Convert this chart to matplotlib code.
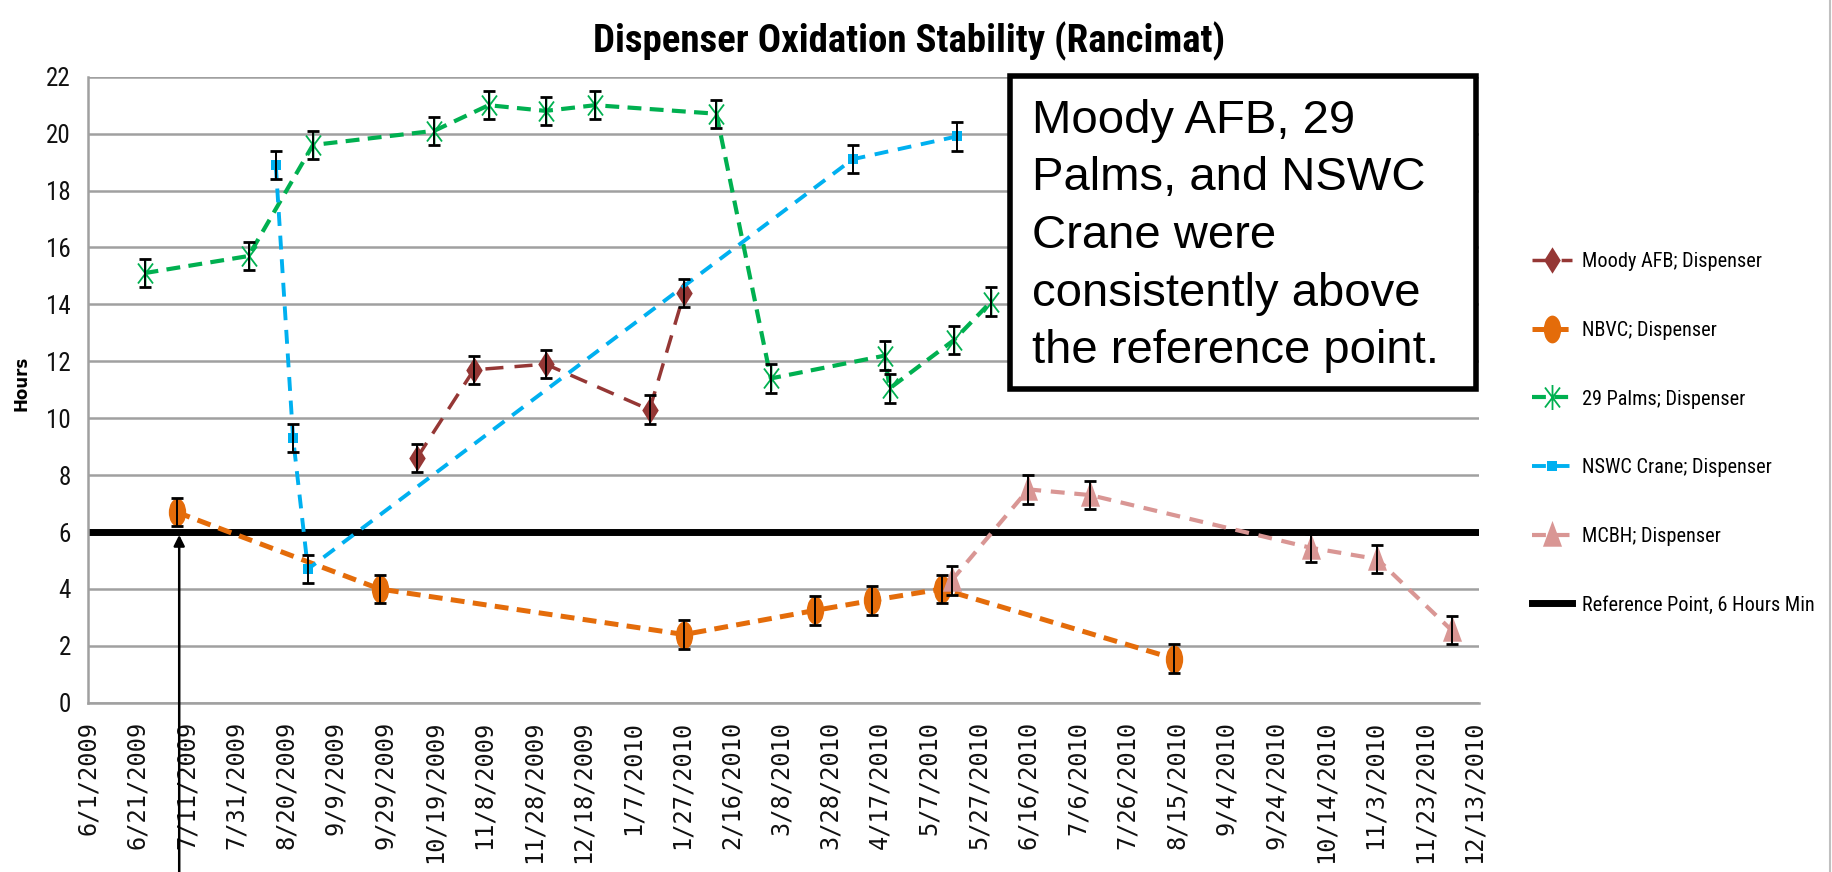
import pandas as pd
import matplotlib
matplotlib.use('Agg')
import matplotlib.pyplot as plt
from matplotlib.path import Path
from matplotlib.patches import Rectangle
from matplotlib.lines import Line2D
from matplotlib.transforms import Affine2D
from matplotlib import font_manager

plt.rcParams['lines.scale_dashes'] = False

# Narrow font for Excel-like labels, if one is installed
names = {f.name for f in font_manager.fontManager.ttflist}
NARROW = 'Liberation Sans'
for cand in ['Liberation Sans Narrow', 'DejaVu Sans Condensed', 'Roboto Condensed', 'Open Sans Condensed']:
    if cand in names:
        NARROW = cand
        break
SHRINK = 1.0 if NARROW != 'Liberation Sans' else 0.82

# ---- data ----
moody_dates = ['10/12/2009', '11/4/2009', '12/3/2009', '1/14/2010', '1/28/2010']
moody_hours = [8.6, 11.7, 11.9, 10.3, 14.4]

nbvc_dates = ['7/7/2009', '9/27/2009', '1/28/2010', '3/22/2010', '4/14/2010', '5/12/2010', '8/14/2010']
nbvc_hours = [6.7, 4.0, 2.4, 3.25, 3.6, 4.0, 1.55]

palms_dates = ['6/24/2009', '8/5/2009', '8/31/2009', '10/19/2009', '11/10/2009', '12/3/2009',
               '12/23/2009', '2/10/2010', '3/4/2010', '4/19/2010', '4/21/2010', '5/17/2010', '6/1/2010']
palms_hours = [15.1, 15.7, 19.6, 20.1, 21.0, 20.8, 21.0, 20.7, 11.4, 12.2, 11.05, 12.75, 14.1]

crane_dates = ['8/16/2009', '8/23/2009', '8/29/2009', '4/6/2010', '5/18/2010']
crane_hours = [18.9, 9.3, 4.7, 19.1, 19.9]

mcbh_dates = ['5/16/2010', '6/16/2010', '7/11/2010', '10/8/2010', '11/4/2010', '12/4/2010']
mcbh_hours = [4.3, 7.5, 7.3, 5.45, 5.05, 2.55]

err_hours = 0.5
ref_hours = 6
arrow_date = '7/8/2009'

tick_labels = ['6/1/2009', '6/21/2009', '7/11/2009', '7/31/2009', '8/20/2009', '9/9/2009',
               '9/29/2009', '10/19/2009', '11/8/2009', '11/28/2009', '12/18/2009', '1/7/2010',
               '1/27/2010', '2/16/2010', '3/8/2010', '3/28/2010', '4/17/2010', '5/7/2010',
               '5/27/2010', '6/16/2010', '7/6/2010', '7/26/2010', '8/15/2010', '9/4/2010',
               '9/24/2010', '10/14/2010', '11/3/2010', '11/23/2010', '12/13/2010']
y_ticks = [0, 2, 4, 6, 8, 10, 12, 14, 16, 18, 20, 22]

labels = ['Moody AFB; Dispenser', 'NBVC; Dispenser', '29 Palms; Dispenser',
          'NSWC Crane; Dispenser', 'MCBH; Dispenser', 'Reference Point, 6 Hours Min']
note = ['Moody AFB, 29', 'Palms, and NSWC', 'Crane were', 'consistently above', 'the reference point.']


def d(lst):
    return pd.to_datetime(lst, format='%m/%d/%Y')


# tall markers (the Excel picture is stretched vertically)
tall = Affine2D().scale(1, 1.6)
m_diamond = Path([(0, 1.6), (1, 0), (0, -1.6), (-1, 0), (0, 1.6)], closed=True)
m_ellipse = tall.transform_path(Path.unit_circle())
m_triangle = Path([(0, 1.3), (0.85, -1), (-0.85, -1), (0, 1.3)], closed=True)
m_star = Path([(0, -1.5), (0, 1.5), (-0.9, -1.2), (0.9, 1.2), (-0.9, 1.2), (0.9, -1.2)],
              [Path.MOVETO, Path.LINETO, Path.MOVETO, Path.LINETO, Path.MOVETO, Path.LINETO])

series = [
    (moody_dates, moody_hours, dict(color='#953735', lw=2.5, dashes=(13, 8), marker=m_diamond, ms=19, mew=0)),
    (nbvc_dates, nbvc_hours, dict(color='#E46C0A', lw=3.6, dashes=(10, 6), marker=m_ellipse, ms=20, mew=0)),
    (palms_dates, palms_hours, dict(color='#00B050', lw=3.0, dashes=(10, 6), marker=m_star, ms=18, mew=1.3,
                                    mfc='none', mec='#00B050')),
    (crane_dates, crane_hours, dict(color='#00B0F0', lw=2.8, dashes=(10, 7), marker='s', ms=7, mew=0)),
    (mcbh_dates, mcbh_hours, dict(color='#D99694', lw=3.0, dashes=(10, 7), marker=m_triangle, ms=21, mew=0)),
]

fig = plt.figure(figsize=(18.33, 8.72), dpi=100)
ax = fig.add_axes([0.0478, 0.194, 0.759, 0.718])

handles = []
for dates, hours, style in series:
    ax.plot(d(dates), hours, zorder=3, **style)
    ax.errorbar(d(dates), hours, yerr=err_hours, fmt='none', ecolor='black',
                elinewidth=1.4, capsize=4, capthick=2, zorder=4)
    handles.append(Line2D([], [], **style))

ax.axhline(ref_hours, color='black', lw=5, zorder=2.5)
handles.append(Line2D([], [], color='black', lw=5))

# axes styling
ax.set_ylim(0, 22)
ax.set_yticks(y_ticks)
ax.set_xlim(pd.Timestamp('2009-06-01'), pd.Timestamp('2010-12-15'))
ax.set_xticks(d(tick_labels))
ax.set_xticklabels(tick_labels, rotation=90, family='DejaVu Sans Mono', fontsize=17, color='#111111')
ax.set_yticklabels([str(v) for v in y_ticks], family=NARROW, fontsize=18 * SHRINK, color='#111111')
ax.tick_params(axis='x', length=0, pad=13)
ax.tick_params(axis='y', length=0, pad=12)
ax.yaxis.grid(True, color='#A0A0A0', lw=1.8)
ax.set_axisbelow(True)
for s in ['top', 'right']:
    ax.spines[s].set_visible(False)
for s in ['left', 'bottom']:
    ax.spines[s].set_color('#A0A0A0')
    ax.spines[s].set_linewidth(1.8)

# arrow pointing at the reference line from below the chart
ax.annotate('', xy=(d([arrow_date])[0], ref_hours), xycoords='data',
            xytext=(d([arrow_date])[0], -0.05), textcoords=('data', 'figure fraction'),
            arrowprops=dict(arrowstyle='-|>', color='black', lw=1.8, mutation_scale=16),
            annotation_clip=False, zorder=5)

# title and axis label
fig.text(0.496, 0.953, 'Dispenser Oxidation Stability (Rancimat)', ha='center', va='center',
         family=NARROW, fontsize=28 * SHRINK, fontweight='bold')
fig.text(0.0115, 0.56, 'Hours', rotation=90, ha='center', va='center',
         family='DejaVu Sans', fontsize=12, fontweight='bold')

# legend
fig.legend(handles, labels, loc='center left', bbox_to_anchor=(0.8258, 0.5030),
           frameon=False, prop={'family': NARROW, 'size': 14.6 * SHRINK},
           handlelength=2.0, handletextpad=0.45, labelspacing=2.45,
           numpoints=1)

# call-out box
box = Rectangle((1010 / 1833, 1 - 389 / 872), 466 / 1833, 313 / 872, transform=fig.transFigure,
                facecolor='white', edgecolor='black', lw=4, zorder=5)
fig.add_artist(box)
for i, line in enumerate(note):
    fig.text(1032 / 1833, 1 - (133 + 57.5 * i) / 872, line, ha='left', va='baseline',
             family='Liberation Sans', fontsize=34, zorder=6)

# chart area border on the right
fig.add_artist(Line2D([0.9985, 0.9985], [0, 1], transform=fig.transFigure, color='#C0C0C0', lw=1.5))

fig.savefig('out.png', dpi=100, facecolor='white')
